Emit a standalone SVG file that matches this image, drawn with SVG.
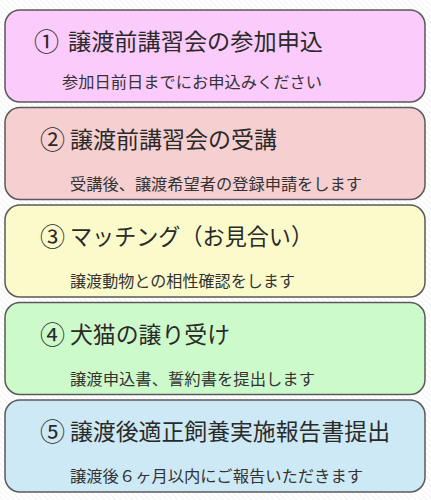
<svg xmlns="http://www.w3.org/2000/svg" width="431" height="500" viewBox="0 0 431 500">
<defs>
<pattern id="hatch" width="4" height="4" patternUnits="userSpaceOnUse" patternTransform="rotate(-45)">
<rect width="4" height="4" fill="#ffffff"/>
<line x1="0" y1="0" x2="0" y2="4" stroke="#ececec" stroke-width="1.2"/>
</pattern>
</defs>
<style>
.box{stroke:#5a5a5a;stroke-width:1.5}
.num{font-family:"Noto Sans CJK JP","Noto Sans CJK SC",sans-serif;font-size:25px;fill:#2a2a2a}
.title{font-family:"Noto Sans CJK JP","Noto Sans CJK SC",sans-serif;font-size:23px;fill:#2a2a2a}
.sub{font-family:"Noto Sans CJK JP","Noto Sans CJK SC",sans-serif;font-size:15.5px;fill:#333}
</style>
<rect width="431" height="500" fill="url(#hatch)"/>
<g id="connectors"/>
<g id="step1">
<rect class="box" x="5" y="10" width="420" height="92" rx="15" fill="#FBCBFB"/>
<text class="num" x="34" y="51">①</text>
<text class="title" x="68" y="50" textLength="255" lengthAdjust="spacingAndGlyphs">譲渡前講習会の参加申込</text>
<text class="sub" x="62" y="88" textLength="260" lengthAdjust="spacingAndGlyphs">参加日前日までにお申込みください</text>
</g>
<g id="step2">
<rect class="box" x="5" y="107.5" width="420" height="92" rx="15" fill="#F6CFD0"/>
<text class="num" x="40" y="148.5">②</text>
<text class="title" x="70" y="147.5" textLength="207" lengthAdjust="spacingAndGlyphs">譲渡前講習会の受講</text>
<text class="sub" x="70" y="190" textLength="292" lengthAdjust="spacingAndGlyphs">受講後、譲渡希望者の登録申請をします</text>
</g>
<g id="step3">
<rect class="box" x="5" y="205" width="420" height="92" rx="15" fill="#FBFACB"/>
<text class="num" x="40" y="246">③</text>
<text class="title" x="70" y="245" textLength="243" lengthAdjust="spacingAndGlyphs">マッチング（お見合い）</text>
<text class="sub" x="70" y="287" textLength="225" lengthAdjust="spacingAndGlyphs">譲渡動物との相性確認をします</text>
</g>
<g id="step4">
<rect class="box" x="5" y="302.5" width="420" height="92" rx="15" fill="#CDFACB"/>
<text class="num" x="40" y="343.5">④</text>
<text class="title" x="70" y="342.5" textLength="160" lengthAdjust="spacingAndGlyphs">犬猫の譲り受け</text>
<text class="sub" x="70" y="384.5" textLength="245" lengthAdjust="spacingAndGlyphs">譲渡申込書、誓約書を提出します</text>
</g>
<g id="step5">
<rect class="box" x="5" y="400" width="420" height="92" rx="15" fill="#CDE9F5"/>
<text class="num" x="40" y="441">⑤</text>
<text class="title" x="70" y="440" textLength="320" lengthAdjust="spacingAndGlyphs">譲渡後適正飼養実施報告書提出</text>
<text class="sub" x="70" y="482" textLength="293" lengthAdjust="spacingAndGlyphs">譲渡後６ヶ月以内にご報告いただきます</text>
</g>
</svg>
